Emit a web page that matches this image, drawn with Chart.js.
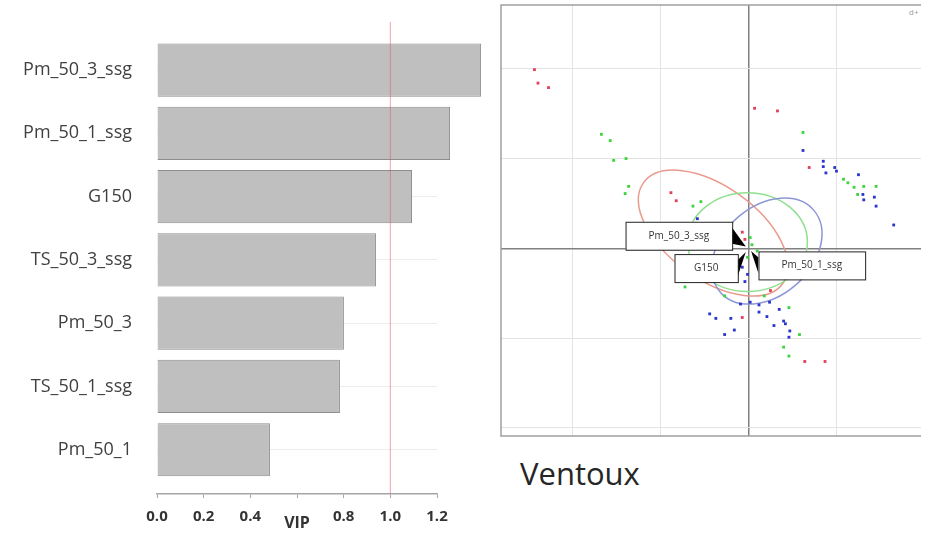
<!DOCTYPE html>
<html>
<head>
<meta charset="utf-8">
<script src="https://cdn.jsdelivr.net/npm/chart.js@4.4.0/dist/chart.umd.min.js"></script>
<style>
  html, body { margin: 0; padding: 0; background: #fff; }
  body { width: 925px; height: 546px; position: relative; overflow: hidden; font-family: 'Open Sans', sans-serif; }
  #vipBox { position: absolute; left: 0; top: 0; width: 495px; height: 546px; }
  #scoreBox { position: absolute; left: 495px; top: 0; width: 430px; height: 440px; }
  #site { position: absolute; left: 520px; top: 458px; font-size: 31px; line-height: 1; color: #262626; }
</style>
</head>
<body>
<div id="vipBox"><canvas id="vipChart"></canvas></div>
<div id="scoreBox"><canvas id="scoreChart"></canvas></div>
<div id="site">Ventoux</div>
<script>
// VIP bar chart
const vipNames = ['Pm_50_3_ssg', 'Pm_50_1_ssg', 'G150', 'TS_50_3_ssg', 'Pm_50_3', 'TS_50_1_ssg', 'Pm_50_1'];
const vipValues = [1.389, 1.256, 1.093, 0.939, 0.801, 0.784, 0.484];
const vipTicks = [0, 0.2, 0.4, 0.6, 0.8, 1.0, 1.2];
const vipThreshold = 1.0;

// score plot (t1 / t2), one list per group
const redScores = [[-2.39, 1.84], [-2.27, 1.79], [-2.43, 1.99], [-0.88, 0.62], [-0.82, 0.53], [0.07, 1.56],
  [0.33, 1.53], [0.69, 0.90], [0.64, -1.26], [0.87, -1.26], [-0.07, 0.18], [-0.07, -0.77], [0.25, -0.47], [-0.04, 0.10]];
const greenScores = [[-1.67, 1.27], [-1.57, 1.20], [-1.53, 0.98], [-1.39, 1.00], [-1.36, 0.69], [-1.40, 0.61],
  [-0.63, 0.47], [-0.54, 0.52], [0.62, 1.29], [1.08, 0.77], [1.13, 0.73], [1.20, 0.68], [1.31, 0.69], [1.45, 0.69],
  [1.24, 0.60], [0.58, -0.96], [0.40, -1.10], [0.46, -1.20], [0.46, -0.66], [-0.27, -0.53], [0.18, -0.53],
  [-0.72, -0.43], [0.04, 0.04], [0.10, -0.03], [-0.01, -0.10], [0.02, 0.12]];
const blueScores = [[0.62, 1.09], [0.85, 0.97], [0.85, 0.91], [0.88, 0.84], [0.98, 0.90], [1.00, 0.86], [1.25, 0.82],
  [1.30, 0.60], [1.31, 0.54], [1.43, 0.57], [1.45, 0.47], [1.65, 0.26], [-0.58, 0.33], [-0.44, -0.73], [-0.37, -0.78],
  [-0.20, -0.78], [-0.16, -0.91], [-0.27, -0.96], [0.12, -0.71], [0.21, -0.76], [0.12, -0.63], [0.29, -0.86],
  [0.40, -0.81], [0.42, -0.84], [0.47, -0.92], [0.46, -0.99], [0.02, -0.60], [-0.09, -0.62], [0.24, -0.60],
  [0.35, -0.68], [-0.07, -0.21], [-0.01, -0.29], [-0.04, -0.37]];

// confidence ellipses: centre, half axes, rotation (deg)
const ellipseCentres = [[-0.40, 0.17], [-0.01, 0.07], [0.21, -0.03]];
const ellipseAxes = [[0.97, 0.52], [0.68, 0.55], [0.70, 0.50]];
const ellipseAngles = [-35, 0, 40];

// loadings shown as labelled arrows
const loadingNames = ['Pm_50_3_ssg', 'G150', 'Pm_50_1_ssg'];
const loadingTips = [[-0.03, 0.02], [-0.03, -0.04], [0.03, -0.03]];
const loadingLabelAt = [[-0.79, 0.14], [-0.48, -0.22], [0.72, -0.19]];

Chart.defaults.font.family = "'Open Sans', sans-serif";

const refLine = {
  id: 'refLine',
  afterDatasetsDraw(chart) {
    const { ctx, chartArea, scales } = chart;
    const x = scales.x.getPixelForValue(vipThreshold);
    ctx.save();
    ctx.strokeStyle = 'rgba(222, 90, 110, 0.55)';
    ctx.lineWidth = 1;
    ctx.beginPath();
    ctx.moveTo(x, chartArea.top);
    ctx.lineTo(x, chartArea.bottom);
    ctx.stroke();
    ctx.restore();
  }
};

new Chart(document.getElementById('vipChart'), {
  type: 'bar',
  data: {
    datasets: [{
      data: vipValues.map((v, i) => ({ x: v, y: i })),
      backgroundColor: '#bfbfbf',
      borderColor: '#8c8c8c',
      borderWidth: 1,
      barPercentage: 0.84,
      categoryPercentage: 1,
      clip: false
    }]
  },
  options: {
    indexAxis: 'y',
    responsive: true,
    maintainAspectRatio: false,
    animation: false,
    layout: { padding: { top: 22, right: 58, left: 0, bottom: 0 } },
    plugins: { legend: { display: false }, tooltip: { enabled: false } },
    scales: {
      y: {
        type: 'linear',
        reverse: true,
        offset: false,
        min: -0.76,
        max: 6.70,
        afterFit: (scale) => {
          scale.width = 157;
          scale.paddingTop = 0;
          scale.paddingBottom = 0;
        },
        border: { display: false },
        grid: { color: '#ececec', drawTicks: false, offset: false },
        ticks: {
          stepSize: 1,
          includeBounds: false,
          autoSkip: false,
          padding: 25,
          color: '#404040',
          font: { size: 18 },
          callback: (value) => vipNames[value] ?? ''
        }
      },
      x: {
        type: 'linear',
        min: 0,
        max: 1.2,
        afterFit: (scale) => { scale.height = 52; },
        afterBuildTicks: (scale) => { scale.ticks = vipTicks.map((v) => ({ value: v })); },
        border: { color: '#a6a6a6', width: 1.5 },
        grid: { drawOnChartArea: false, tickLength: 4, color: '#a6a6a6' },
        ticks: {
          padding: 10,
          color: '#333',
          font: { size: 15, weight: 'bold' },
          // 0.6 is hidden under the axis title in the original
          callback: (value) => Math.abs(value - 0.6) < 1e-6 ? '' : value.toFixed(1)
        },
        title: {
          display: true,
          text: 'VIP',
          color: '#333',
          font: { size: 16, weight: 'bold' },
          padding: { top: 0, bottom: 13 }
        }
      }
    }
  },
  plugins: [refLine]
});

const ellipseColours = ['#e99a8c', '#8fe08f', '#8d97d6'];

const scoreDecor = {
  id: 'scoreDecor',
  beforeDatasetsDraw(chart) {
    const { ctx, chartArea, scales: { x, y } } = chart;
    const sx = x.getPixelForValue(1) - x.getPixelForValue(0);
    const sy = y.getPixelForValue(1) - y.getPixelForValue(0);
    ctx.save();
    // frame
    ctx.strokeStyle = '#a0a0a0';
    ctx.lineWidth = 1.5;
    ctx.beginPath();
    ctx.moveTo(chartArea.right, chartArea.top);
    ctx.lineTo(chartArea.left, chartArea.top);
    ctx.lineTo(chartArea.left, chartArea.bottom);
    ctx.lineTo(chartArea.right, chartArea.bottom);
    ctx.stroke();
    // ellipses
    ellipseCentres.forEach((c, i) => {
      ctx.save();
      ctx.translate(x.getPixelForValue(c[0]), y.getPixelForValue(c[1]));
      ctx.scale(sx, sy);
      ctx.rotate(ellipseAngles[i] * Math.PI / 180);
      ctx.beginPath();
      ctx.ellipse(0, 0, ellipseAxes[i][0], ellipseAxes[i][1], 0, 0, Math.PI * 2);
      ctx.restore();
      ctx.strokeStyle = ellipseColours[i];
      ctx.lineWidth = 1.5;
      ctx.stroke();
    });
    ctx.fillStyle = '#999';
    ctx.font = '8px "Open Sans"';
    ctx.fillText('d+', chartArea.right - 12, chartArea.top + 10);
    ctx.restore();
  },
  afterDatasetsDraw(chart) {
    const { ctx, scales: { x, y } } = chart;
    ctx.save();
    ctx.font = '10px "Open Sans"';
    ctx.textAlign = 'center';
    ctx.textBaseline = 'middle';
    loadingNames.forEach((name, i) => {
      const cx = x.getPixelForValue(loadingLabelAt[i][0]);
      const cy = y.getPixelForValue(loadingLabelAt[i][1]);
      const tx = x.getPixelForValue(loadingTips[i][0]);
      const ty = y.getPixelForValue(loadingTips[i][1]);
      const w = ctx.measureText(name).width * 1.2 + 34;
      const h = 28;
      const edge = tx > cx ? cx + w / 2 : cx - w / 2;
      ctx.fillStyle = '#000';
      ctx.beginPath();
      ctx.moveTo(edge, cy - 8);
      ctx.lineTo(tx, ty);
      ctx.lineTo(edge, cy + 8);
      ctx.closePath();
      ctx.fill();
      ctx.fillStyle = '#fff';
      ctx.fillRect(cx - w / 2, cy - h / 2, w, h);
      ctx.strokeStyle = '#222';
      ctx.lineWidth = 1;
      ctx.strokeRect(cx - w / 2 + 0.5, cy - h / 2 + 0.5, w, h);
      ctx.fillStyle = '#333';
      ctx.fillText(name, cx, cy);
    });
    ctx.restore();
  }
};

const toPoints = (list) => list.map((p) => ({ x: p[0], y: p[1] }));
const gridColour = (c) => (c.tick && c.tick.value === 0 ? '#808080' : '#e3e3e3');
const gridWidth = (c) => (c.tick && c.tick.value === 0 ? 1.5 : 1);

new Chart(document.getElementById('scoreChart'), {
  type: 'scatter',
  data: {
    datasets: [
      { data: toPoints(redScores), backgroundColor: '#e0405a' },
      { data: toPoints(greenScores), backgroundColor: '#3cd43c' },
      { data: toPoints(blueScores), backgroundColor: '#2a36cc' }
    ]
  },
  options: {
    responsive: true,
    maintainAspectRatio: false,
    animation: false,
    layout: { padding: { left: 6, top: 5, right: 0, bottom: 3 } },
    elements: { point: { pointStyle: 'rect', radius: 2, borderWidth: 0 } },
    plugins: { legend: { display: false }, tooltip: { enabled: false } },
    scales: {
      x: {
        type: 'linear',
        min: -2.81,
        max: 1.96,
        border: { display: false },
        grid: { drawTicks: false, color: gridColour, lineWidth: gridWidth },
        ticks: { display: false, stepSize: 1, includeBounds: false }
      },
      y: {
        type: 'linear',
        min: -2.09,
        max: 2.71,
        border: { display: false },
        grid: { drawTicks: false, color: gridColour, lineWidth: gridWidth },
        ticks: { display: false, stepSize: 1, includeBounds: false }
      }
    }
  },
  plugins: [scoreDecor]
});
</script>
</body>
</html>
